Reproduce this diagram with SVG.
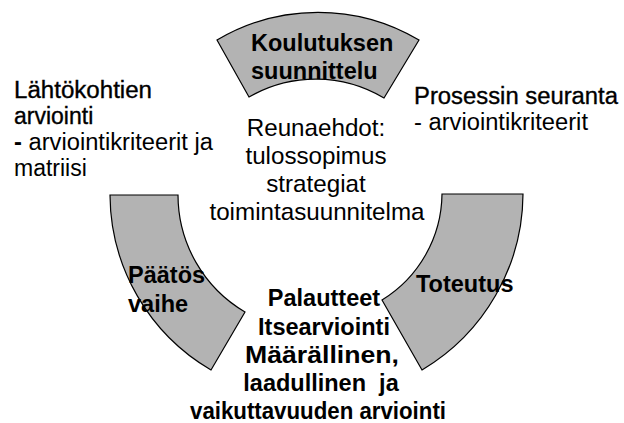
<svg xmlns="http://www.w3.org/2000/svg" width="624" height="423" viewBox="0 0 624 423">
<style>
.seg{fill:#b3b3b3;stroke:#000;stroke-width:1.2;stroke-linejoin:miter}
text{font-family:"Liberation Sans",Arial,sans-serif;font-size:24.2px;fill:#000}
.b{font-weight:bold;font-size:23.5px}
.s{font-size:23px}
.c{text-anchor:middle}
.t{stroke:#000;stroke-width:0.35}
</style>
<rect width="624" height="423" fill="#fff"/>
<g id="connectors"></g>
<g id="koulutuksen">
<path class="seg" d="M217,40 A198,198 0 0,1 419,40 L384,98 A133,133 0 0,0 249,97 Z"/>
<text class="b" x="251" y="51">Koulutuksen</text>
<text class="b" x="251" y="79">suunnittelu</text>
</g>
<g id="paatos">
<path class="seg" d="M110,195 L178,195 A136,136 0 0,0 245,312 L211,370 A204,204 0 0,1 110,195 Z"/>
<text class="b" x="128" y="283">Päätös</text>
<text class="b" x="128" y="312">vaihe</text>
</g>
<g id="toteutus">
<path class="seg" d="M442,194 L523,194 A206,206 0 0,1 422,370 L382,300 A126,126 0 0,0 442,194 Z"/>
<text class="b" x="416" y="292">Toteutus</text>
</g>
<g id="lahtokohtien">
<text class="s t" x="14" y="98" textLength="138" lengthAdjust="spacingAndGlyphs">Lähtökohtien</text>
<text class="s t" x="14" y="124">arviointi</text>
<text class="s" x="14" y="150" textLength="199" lengthAdjust="spacingAndGlyphs"><tspan font-weight="bold">-</tspan> arviointikriteerit ja</text>
<text class="s" x="14" y="176">matriisi</text>
</g>
<g id="prosessin">
<text class="s t" x="414" y="104" textLength="204" lengthAdjust="spacingAndGlyphs">Prosessin seuranta</text>
<text class="s" x="414" y="130" textLength="174" lengthAdjust="spacingAndGlyphs">- arviointikriteerit</text>
</g>
<g id="reunaehdot">
<text class="c" x="316" y="136">Reunaehdot:</text>
<text class="c" x="316" y="164">tulossopimus</text>
<text class="c" x="316" y="192">strategiat</text>
<text class="c" x="317" y="220">toimintasuunnitelma</text>
</g>
<g id="palautteet">
<text class="b c" x="324" y="306">Palautteet</text>
<text class="b c" x="324" y="335">Itsearviointi</text>
<text class="b c" x="322" y="363" textLength="154" lengthAdjust="spacingAndGlyphs">Määrällinen,</text>
<text class="b c" x="321" y="391" xml:space="preserve">laadullinen  ja</text>
<text class="b c" x="318" y="419" textLength="256" lengthAdjust="spacingAndGlyphs">vaikuttavuuden arviointi</text>
</g>
</svg>
